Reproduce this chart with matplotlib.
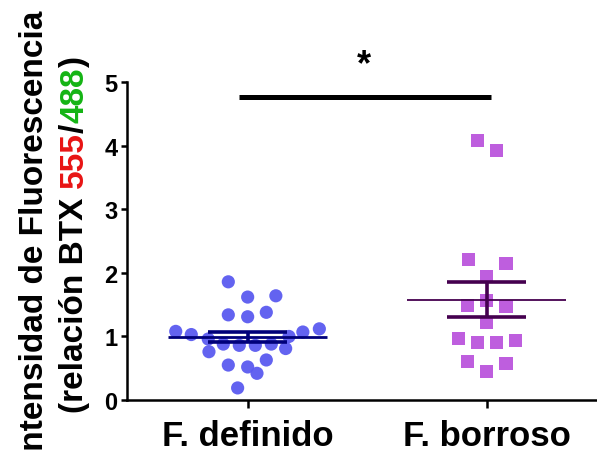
import matplotlib
matplotlib.use("Agg")
import matplotlib.pyplot as plt
import numpy as np

plt.rcParams['font.family'] = ['Liberation Sans', 'DejaVu Sans']
plt.rcParams['font.weight'] = 'bold'

# groups
categories = ["F. definido", "F. borroso"]

# values (relative BTX 555/488)
definido_vals = [1.86, 1.62, 1.64, 1.34, 1.31, 1.38, 1.08, 1.03, 1.12, 1.07, 1.00, 0.96,
                 0.88, 0.86, 0.86, 0.88, 0.81, 0.76, 0.55, 0.52, 0.63, 0.42, 0.19]
definido_jitter = [-0.081, 0.0, 0.118, -0.081, 0.0, 0.078, -0.301, -0.236, 0.300, 0.231, 0.173, -0.165,
                   -0.102, -0.035, 0.032, 0.099, 0.159, -0.162, -0.081, 0.0, 0.078, 0.039, -0.042]
borroso_vals = [4.08, 3.93, 2.21, 2.15, 1.95, 1.56, 1.49, 1.47, 1.22, 0.97, 0.90, 0.90,
                0.93, 0.60, 0.58, 0.45]
borroso_jitter = [-0.038, 0.042, -0.077, 0.081, 0.0, 0.0, -0.079, 0.081, 0.0, -0.119, -0.039, 0.040,
                  0.121, -0.079, 0.081, 0.0]

means = [0.99, 1.58]
sems = [0.085, 0.27]
yticks = [0, 1, 2, 3, 4, 5]

blue_pt = "#5b5bf0"
blue_line = "#00007a"
purple_pt = "#bb55dd"
purple_line = "#45004f"

W, H = 597, 452
fig = plt.figure(figsize=(W / 100, H / 100), dpi=100)
ax = fig.add_axes([127 / W, 51 / H, (W - 127) / W, (401 - 83.3) / H])

# scatter points
ax.scatter(0 + np.array(definido_jitter), definido_vals, s=90, marker='o',
           color=blue_pt, edgecolors='none', alpha=0.95, zorder=2, clip_on=False)
ax.scatter(1 + np.array(borroso_jitter), borroso_vals, s=90, marker='s',
           color=purple_pt, edgecolors='none', alpha=0.95, zorder=2, clip_on=False)

# mean +/- sem
for i, (m, e, c, lw) in enumerate(zip(means, sems, [blue_line, purple_line], [2.0, 1.3])):
    ax.plot([i - 0.333, i + 0.333], [m, m], color=c, lw=lw, zorder=3, solid_capstyle='butt')
    ax.plot([i, i], [m - e, m + e], color=c, lw=2.6, zorder=3, solid_capstyle='butt')
    for yy in (m - e, m + e):
        ax.plot([i - 0.165, i + 0.165], [yy, yy], color=c, lw=2.6, zorder=3, solid_capstyle='butt')

# significance bar
ax.plot([-0.035, 1.02], [4.77, 4.77], color='black', lw=3.6, solid_capstyle='butt', clip_on=False)
ax.text(0.487, 5.13, "*", ha='center', va='baseline', fontsize=26, fontweight='bold', clip_on=False)

ax.set_xlim(-0.505, 1.462)
ax.set_ylim(0, 5)
ax.set_xticks([0, 1])
ax.set_xticklabels(categories, fontsize=25, fontweight='bold')
ax.set_yticks(yticks)
ax.set_yticklabels([str(t) for t in yticks], fontsize=17, fontweight='bold')
ax.tick_params(axis='x', length=6, width=1.8, pad=8)
ax.tick_params(axis='y', length=4, width=1.8, pad=3)
for s in ('top', 'right'):
    ax.spines[s].set_visible(False)
for s in ('left', 'bottom'):
    ax.spines[s].set_linewidth(1.8)

# y label, two lines, second with coloured numbers
fs_lab = 24
fig.text(43 / W, 217 / H, "Intensidad de Fluorescencia", rotation=90, rotation_mode='anchor',
         ha='center', va='baseline', fontsize=fs_lab, fontweight='bold')

renderer = fig.canvas.get_renderer()


def text_w(s):
    t = fig.text(0, 0, s, fontsize=fs_lab, fontweight='bold')
    w = t.get_window_extent(renderer).width
    t.remove()
    return w


full = "(relación BTX 555/488)"
pieces = [("(relación BTX", "(relación BTX", "black"),
          ("(relación BTX 555", "555", "#e81414"),
          ("(relación BTX 555/", "/", "black"),
          ("(relación BTX 555/488", "488", "#14b414"),
          (full, ")", "black")]
y0 = 217 - text_w(full) / 2
for prefix, piece, col in pieces:
    y = y0 + text_w(prefix) - text_w(piece)
    fig.text(83 / W, y / H, piece, rotation=90, rotation_mode='anchor',
             ha='left', va='baseline', fontsize=fs_lab, fontweight='bold', color=col)

fig.savefig("out.png", dpi=100)
